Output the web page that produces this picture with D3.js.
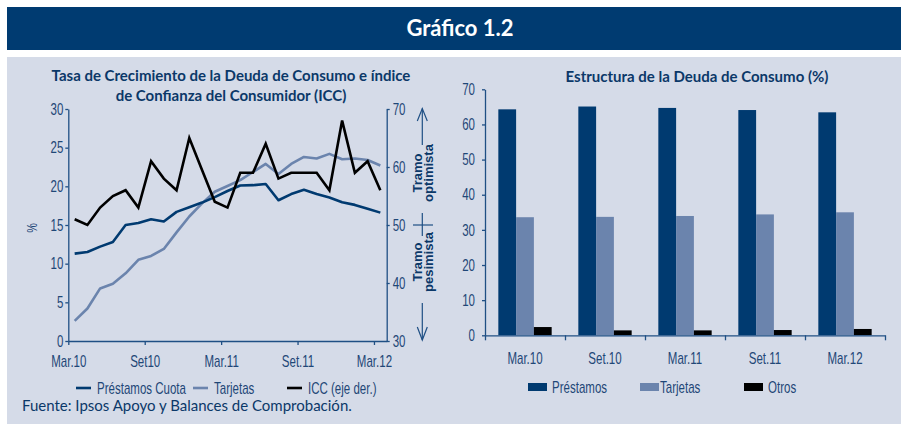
<!DOCTYPE html>
<html><head><meta charset="utf-8">
<script src="https://cdn.jsdelivr.net/npm/d3@7/dist/d3.min.js"></script>
<style>
body{margin:0;background:#fff;}
svg{display:block;}
</style></head>
<body>
<svg id="c" width="901" height="424"></svg>
<script>
// ---------- DATA ----------
const months = ["Mar.10","Abr.10","May.10","Jun.10","Jul.10","Ago.10","Set.10","Oct.10","Nov.10","Dic.10","Ene.11","Feb.11",
  "Mar.11","Abr.11","May.11","Jun.11","Jul.11","Ago.11","Set.11","Oct.11","Nov.11","Dic.11","Ene.12","Feb.12","Mar.12"];
const prestamosCuota = [11.3,11.5,12.2,12.8,15.0,15.25,15.75,15.45,16.7,17.3,17.9,18.6,19.4,20.1,20.15,20.3,18.2,19.0,19.55,19.0,18.55,17.95,17.6,17.1,16.6];
const tarjetasLine   = [2.6,4.2,6.8,7.4,8.75,10.5,11.0,11.9,14.05,16.1,17.8,19.3,20.05,20.8,21.85,22.9,21.6,22.9,23.8,23.6,24.2,23.5,23.6,23.4,22.7];
const icc            = [51,50,53,55,56,53,61,58,56,65,59.5,54,53,59,59,64,58,59,59,59,56,68,59,61,56];
const lineTickIdx    = [0,6,12,18,24];
const lineTickLabels = ["Mar.10","Set10","Mar.11","Set.11","Mar.12"];
const leftTicks  = [0,5,10,15,20,25,30];
const rightTicks = [30,40,50,60,70];

const barCats   = ["Mar.10","Set.10","Mar.11","Set.11","Mar.12"];
const barSeries = ["Préstamos","Tarjetas","Otros"];
const barPrestamos = [64.3,65.1,64.7,64.1,63.45];
const barTarjetas  = [33.6,33.7,33.95,34.4,35.0];
const barOtros     = [2.35,1.4,1.4,1.5,1.8];
const barTicks = [0,10,20,30,40,50,60,70];

// ---------- STYLE ----------
const NAVY = "#003a70", LIGHT = "#6b84ad", BLACK = "#000";
const AX = "#1f4f84", TXT = "#1f4777", TITLE = "#0b3868";
const COND = "'Liberation Sans Narrow', 'Liberation Sans', sans-serif";
const SX = 0.72;

const svg = d3.select("#c");
svg.append("rect").attr("x",7).attr("y",7).attr("width",894).attr("height",43).attr("fill","#003b71");
svg.append("text").attr("x",460).attr("y",36).attr("text-anchor","middle")
  .attr("fill","#fff").attr("font-family","Lato, sans-serif").attr("font-weight","bold").attr("font-size",22)
  .text("Gráfico 1.2");
svg.append("rect").attr("x",7).attr("y",57).attr("width",894).attr("height",367).attr("fill","#d5dbe8");

function condText(sel, size){
  sel.attr("font-family",COND).attr("font-size",size).attr("fill",TXT);
}
function styleAxis(g){
  g.selectAll("path,line").attr("stroke",AX).attr("stroke-width",1.3);
  g.selectAll("text").attr("font-family",COND).attr("font-size",16).attr("fill",TXT);
}

// ---------- LEFT CHART ----------
const L = {x0:68.3, x1:386.7, y0:341, y1:109};
const xL = d3.scaleLinear().domain([0, months.length]).range([L.x0, L.x1]);
const yL = d3.scaleLinear().domain([0,30]).range([L.y0, L.y1]);
const yR = d3.scaleLinear().domain([30,70]).range([L.y0, L.y1]);

const tl = svg.append("text").attr("text-anchor","middle").attr("fill",TITLE)
  .attr("font-family","Lato, sans-serif").attr("font-weight","bold").attr("font-size",15);
tl.append("tspan").attr("x",231).attr("y",81).text("Tasa de Crecimiento de la Deuda de Consumo e índice");
tl.append("tspan").attr("x",231).attr("y",101).text("de Confianza del Consumidor (ICC)");

const gyl = svg.append("g").attr("transform",`translate(${L.x0},0)`)
  .call(d3.axisLeft(yL).tickValues(leftTicks).tickSize(3).tickSizeOuter(0));
styleAxis(gyl);
gyl.selectAll("text").attr("text-anchor","end").attr("x",-5/SX).attr("transform",`scale(${SX},1)`);

const gyr = svg.append("g").attr("transform",`translate(${L.x1},0)`)
  .call(d3.axisRight(yR).tickValues(rightTicks).tickSize(3).tickSizeOuter(0));
styleAxis(gyr);
gyr.selectAll("text").attr("text-anchor","start").attr("x",6/SX).attr("transform",`scale(${SX},1)`);

const gxl = svg.append("g").attr("transform",`translate(0,${L.y0})`)
  .call(d3.axisBottom(xL).tickValues(lineTickIdx).tickFormat((d,i)=>lineTickLabels[i]).tickSize(4).tickSizeOuter(0));
styleAxis(gxl);
gxl.selectAll("text").attr("y",15).attr("transform",`scale(${SX},1)`);

svg.append("text").attr("transform",`translate(37,228) rotate(-90) scale(${SX},1)`)
  .attr("text-anchor","middle").call(condText,15).text("%");

const line = (vals, ys) => d3.line().x((d,i)=>xL(i+0.5)).y(d=>ys(d))(vals);
svg.append("path").attr("d",line(tarjetasLine,yL)).attr("fill","none").attr("stroke",LIGHT).attr("stroke-width",2.6).attr("stroke-linejoin","round");
svg.append("path").attr("d",line(prestamosCuota,yL)).attr("fill","none").attr("stroke",NAVY).attr("stroke-width",2.6).attr("stroke-linejoin","round");
svg.append("path").attr("d",line(icc,yR)).attr("fill","none").attr("stroke",BLACK).attr("stroke-width",2.6).attr("stroke-linejoin","miter");

// Tramo annotations
const ann = svg.append("g").attr("stroke",AX).attr("stroke-width",1.2).attr("fill","none");
ann.append("line").attr("x1",422.3).attr("x2",422.3).attr("y1",108.5).attr("y2",145);
ann.append("path").attr("d","M417.3,121L422.3,108.5L427.3,121");
ann.append("line").attr("x1",422.3).attr("x2",422.3).attr("y1",303).attr("y2",340);
ann.append("path").attr("d","M417.3,327L422.3,340L427.3,327");
ann.append("line").attr("x1",413).attr("x2",433).attr("y1",yR(50)).attr("y2",yR(50));
ann.append("line").attr("x1",422.3).attr("x2",422.3).attr("y1",yR(50)-12).attr("y2",yR(50)+11);
function tramo(x, y, l1, l2){
  const t = svg.append("text").attr("transform",`translate(${x},${y}) rotate(-90)`)
    .attr("text-anchor","middle").attr("font-family",COND).attr("font-weight","bold").attr("font-size",13).attr("fill",TITLE);
  t.append("tspan").attr("x",0).attr("y",0).text(l1);
  t.append("tspan").attr("x",0).attr("y",10.5).text(l2);
}
tramo(422, 173, "Tramo", "optimista");
tramo(422, 262, "Tramo", "pesimista");

// left legend
const lg = [{n:"Préstamos Cuota",c:NAVY,x:76},{n:"Tarjetas",c:LIGHT,x:193},{n:"ICC (eje der.)",c:BLACK,x:287}];
lg.forEach(d=>{
  svg.append("line").attr("x1",d.x).attr("x2",d.x+15).attr("y1",388).attr("y2",388).attr("stroke",d.c).attr("stroke-width",2.6);
  svg.append("text").attr("transform",`translate(${d.x+21},393.5) scale(${SX},1)`).call(condText,16).text(d.n);
});

svg.append("text").attr("x",22).attr("y",411).attr("fill",TITLE)
  .attr("font-family","Lato, sans-serif").attr("font-size",15).text("Fuente: Ipsos Apoyo y Balances de Comprobación.");

// ---------- RIGHT CHART ----------
const R = {x0:485, x1:885, y0:335.3, y1:89.3};
svg.append("text").attr("x",697).attr("y",82).attr("text-anchor","middle").attr("fill",TITLE)
  .attr("font-family","Lato, sans-serif").attr("font-weight","bold").attr("font-size",15)
  .text("Estructura de la Deuda de Consumo (%)");

const xB = d3.scaleBand().domain(barCats).range([R.x0,R.x1]).padding(0);
const xS = d3.scaleBand().domain(barSeries).range([0,xB.bandwidth()]).paddingInner(0).paddingOuter(0.75);
const yB = d3.scaleLinear().domain([0,70]).range([R.y0,R.y1]);
const xTickLin = d3.scaleLinear().domain([0,barCats.length]).range([R.x0,R.x1]);

const gyb = svg.append("g").attr("transform",`translate(${R.x0},0)`)
  .call(d3.axisLeft(yB).tickValues(barTicks).tickSize(3).tickSizeOuter(0));
styleAxis(gyb);
gyb.selectAll("text").attr("text-anchor","end").attr("x",-10/SX).attr("transform",`scale(${SX},1)`);

const barData = barSeries.map((s,k)=>({s, vals:[barPrestamos,barTarjetas,barOtros][k], c:[NAVY,LIGHT,BLACK][k]}));
barData.forEach(sd=>{
  svg.append("g").selectAll("rect").data(sd.vals).join("rect")
    .attr("x",(d,i)=>xB(barCats[i])+xS(sd.s))
    .attr("width",xS.bandwidth())
    .attr("y",d=>yB(d))
    .attr("height",d=>yB(0)-yB(d))
    .attr("fill",sd.c);
});

const gxb = svg.append("g").attr("transform",`translate(0,${R.y0})`)
  .call(d3.axisBottom(xTickLin).tickValues(d3.range(barCats.length+1)).tickFormat("").tickSize(5).tickSizeOuter(0));
styleAxis(gxb);
svg.append("g").selectAll("text").data(barCats).join("text")
  .attr("transform",d=>`translate(${xB(d)+xB.bandwidth()/2},${R.y0+29}) scale(${SX},1)`)
  .attr("text-anchor","middle").call(condText,16).text(d=>d);

const rg = [{n:"Préstamos",c:NAVY,x:528},{n:"Tarjetas",c:LIGHT,x:640},{n:"Otros",c:BLACK,x:744}];
rg.forEach(d=>{
  svg.append("rect").attr("x",d.x).attr("y",383).attr("width",19).attr("height",8).attr("fill",d.c);
  svg.append("text").attr("transform",`translate(${d.x+(d.n==="Tarjetas"?20:24)},393) scale(${SX},1)`).call(condText,16).text(d.n);
});
</script>
</body></html>
